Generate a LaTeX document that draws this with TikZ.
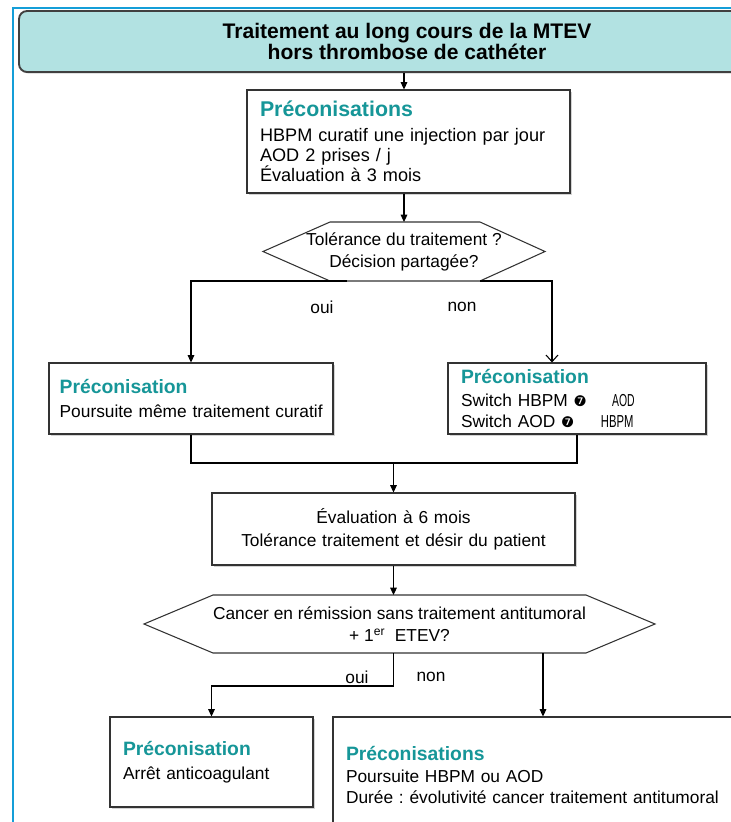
\documentclass[tikz,border=0pt]{standalone}
\usepackage{fontspec}
\setmainfont{Liberation Sans}
\newfontfamily\symfont{DejaVu Sans}
\usepackage{graphicx}
\usetikzlibrary{arrows.meta, calc, shadows}
\frenchspacing
\definecolor{headteal}{RGB}{22,150,152}
\definecolor{titlefill}{RGB}{178,226,226}
\definecolor{framebl}{RGB}{20,158,216}
\newcommand{\headtxt}[2][14.5]{{\bfseries\fontsize{#1}{16}\selectfont\color{headteal}#2}}
\newcommand{\darr}{{\symfont\fontsize{11}{11}\selectfont ❼}}

\begin{document}
\begin{tikzpicture}[x=0.75pt, y=-0.75pt, line width=0.8pt, >={Triangle[length=5.5pt,width=5pt]},
  box/.style={draw=black!80, fill=white, drop shadow={shadow xshift=1.8pt, shadow yshift=-1.8pt, opacity=0.35}, inner xsep=9.75pt, inner ysep=0pt, align=left, font=\fontsize{13}{16}\selectfont},
  hexa/.style={draw=black!80},
  qtext/.style={align=center, inner sep=0pt, outer sep=0pt, font=\fontsize{13}{16.5}\selectfont},
  lbl/.style={inner sep=0pt, font=\fontsize{13}{16}\selectfont}]
\useasboundingbox (0,0) rectangle (731,822);
% Page frame
\draw[draw=framebl, line width=1.5pt] (13,8) rectangle (790,880);
% Title
\node[draw=black!75, line width=1.4pt, rounded corners=6pt, fill=titlefill, minimum width=582pt, minimum height=45.75pt, align=center, font=\bfseries\fontsize{15.8}{15.75}\selectfont, drop shadow={shadow xshift=1pt, shadow yshift=-1.2pt, opacity=0.35}] (title) at (407,41.5) {Traitement au long cours de la MTEV\\hors thrombose de cathéter};
% First recommendations
\node[box, text width=222.75pt, minimum height=77.25pt, font=\fontsize{13.6}{15}\selectfont] (b1) at (408.5,141.5) {\headtxt[16]{Préconisations}\\[4pt]HBPM curatif une injection par jour\\AOD 2 prises / j\\Évaluation à 3 mois};
% First decision
\node[qtext, minimum height=44.25pt] (q1) at (404,251.5) {Tolérance du traitement ?\\Décision partagée?};
\draw[hexa] ($(q1.north)+(-74,0)$) -- ($(q1.north)+(76,0)$) -- ($(q1)+(141,0)$) -- ($(q1.south)+(76,0)$) -- ($(q1.south)+(-74,0)$) -- ($(q1)+(-141,0)$) -- cycle;
% Branches
\node[box, text width=197pt, inner xsep=8pt, minimum height=53.25pt] (bl) at (191,398.5) {\headtxt{Préconisation}\\[2pt]\mbox{Poursuite même traitement curatif}};
\node[box, text width=174pt, minimum height=53.25pt] (br) at (577,398.5) {\headtxt{Préconisation}\\[1pt]Switch HBPM \darr\hspace{19pt}\scalebox{0.6}[1]{AOD}\\Switch AOD \darr\hspace{20pt}\scalebox{0.65}[1]{HBPM}};
% Six months
\node[box, align=center, text width=252.75pt, minimum height=54pt, font=\fontsize{13}{17}\selectfont] (b3) at (393.5,529) {Évaluation à 6 mois\\Tolérance traitement et désir du patient};
% Second decision
\node[qtext, minimum height=43.5pt, font=\fontsize{13}{17}\selectfont] (q2) at (399.5,624) {Cancer en rémission sans traitement antitumoral\\+ 1\textsuperscript{er}\ \ ETEV?};
\draw[hexa] ($(q2.north)+(-186.5,0)$) -- ($(q2.north)+(186.5,0)$) -- ($(q2)+(255.5,0)$) -- ($(q2.south)+(186.5,0)$) -- ($(q2.south)+(-186.5,0)$) -- ($(q2)+(-255.5,0)$) -- cycle;
% Final recommendations
\node[box, text width=132.75pt, minimum height=67.5pt] (b4) at (211.5,762) {\headtxt{Préconisation}\\[2pt]Arrêt anticoagulant};
\node[box, text width=295.5pt, minimum height=87pt] (b5) at (543,775) {\headtxt{Préconisations}\\Poursuite HBPM ou AOD\\Durée : évolutivité cancer traitement antitumoral};
% Connectors
\draw[->] (title.south -| q1.north) -- (b1.north -| q1.north);
\draw[->] (b1.south -| q1.north) -- (q1.north);
\draw[->] ($(q1.south)+(-57,0)$) -| (bl.north);
\draw[-{Straight Barb[length=5pt,width=9pt]}] ($(q1.south)+(76,0)$) -| ([xshift=-18.75pt]br.north);
\node[lbl] (oui1) at (322,307) {oui};
\node[lbl] (non1) at (462,307) {non};
\coordinate (jn) at (393.5,463);
\draw (bl.south) |- (jn) -| (br.south);
\draw[->] (jn) -- (b3.north);
\draw[->] (b3.south) -- (b3.south |- q2.north);
\draw[->] (q2.south -| b3.south) -- ++(0,33) -| (b4.north);
\draw[->] (q2.south -| b5.north) -- (b5.north);
\node[lbl] (oui2) at (357,677) {oui};
\node[lbl] (non2) at (431,677) {non};
\end{tikzpicture}
\end{document}
